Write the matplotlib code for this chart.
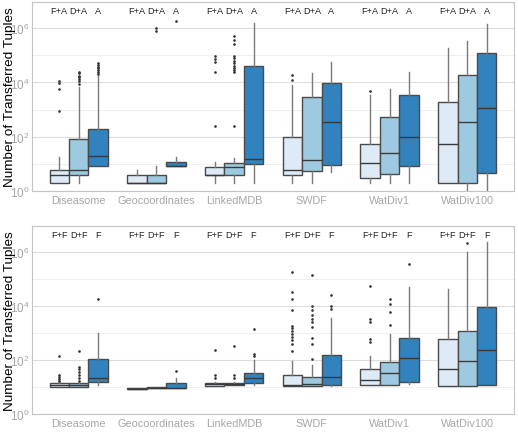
import numpy as np
import matplotlib.pyplot as plt
from matplotlib.ticker import FixedLocator, NullFormatter

plt.rcParams['font.family'] = ['Liberation Sans', 'DejaVu Sans']
plt.rcParams['mathtext.default'] = 'regular'

datasets = ["Diseasome", "Geocoordinates", "LinkedMDB", "SWDF", "WatDiv1", "WatDiv100"]
top_series = ["F+A", "D+A", "A"]
bottom_series = ["F+F", "D+F", "F"]
colors = ["#deebf7", "#9ecae1", "#3182bd"]

# top panel: one row per dataset, one value per series (F+A, D+A, A)
top_whislo = [[2, 2, 8], [2, 2, 8], [2, 2, 2], [2, 2, 5], [2, 2, 2], [2, 1, 1]]
top_q1 = [[2, 4, 8.5], [2, 2, 8], [4, 4, 10], [4, 5.2, 9], [3.1, 4.1, 8.4], [2, 2, 4.4]]
top_med = [[4, 6, 20], [2, 2, 8], [4, 7.3, 14.4], [6.1, 14, 355], [10.8, 26, 96], [53, 335, 1130]]
top_q3 = [[6, 83, 185], [4, 4, 12], [7.3, 11, 42000], [96, 3000, 9500], [53, 510, 3400], [1950, 19000, 120000]]
top_whishi = [[18, 6800, 18000], [6, 8, 18], [12, 16, 1.56e6], [8000, 22000, 55000], [3500, 5700, 25000], [180000, 350000, 1.44e6]]
top_fliers = [
    [[870, 5800, 9500, 11000],
     [9000, 11000, 13000, 15500, 18000, 22000, 25000],
     [20000, 24000, 28000, 33000, 38000, 45000, 52000]],
    [[], [800000, 1000000], [1.9e6]],
    [[245, 25000, 58000, 73000, 92000],
     [245, 25000, 29000, 34000, 42000, 52000, 63000, 78000, 92000, 260000, 380000, 500000],
     []],
    [[12000, 19000], [], []],
    [[4700], [], []],
    [[], [], []],
]

# bottom panel: series F+F, D+F, F
bot_whislo = [[10.3, 10.3, 12], [8.4, 9, 9.5], [11, 11.8, 12], [11, 11, 11], [11.8, 11.8, 13], [11, 11, 12]]
bot_q1 = [[10.3, 10.3, 15], [8.4, 9, 9.5], [11, 11.8, 14], [11, 11, 11.8], [11.8, 11.8, 15], [11, 11, 12]]
bot_med = [[11.9, 11.9, 21.5], [8.6, 9.3, 9.5], [12.5, 13, 22], [11.5, 13, 24], [19, 34, 122], [46, 89, 230]]
bot_q3 = [[13.7, 13.7, 106], [9.2, 10, 13.7], [13.7, 14.5, 34], [28, 24, 148], [48, 84, 670], [620, 1150, 9500]]
bot_whishi = [[16, 16, 970], [9.2, 10, 21], [15, 16, 97], [95, 67, 3700], [140, 890, 50000], [44000, 1.05e6, 2.3e6]]
bot_fliers = [
    [[17, 20, 24, 28, 145], [17, 22, 28, 35, 45, 54, 220], [18000]],
    [[], [], [38]],
    [[22, 29, 230], [22, 29, 330], [140, 170, 1450]],
    [[210, 400, 550, 700, 900, 1200, 1500, 1900, 7000, 18000, 33000, 180000],
     [112, 400, 650, 1650, 2600, 3400, 4800, 6900, 10500, 137000],
     [7600, 10500, 25000]],
    [[470, 620, 2600, 3200, 55000], [2000, 6000, 12000, 18000], [370000]],
    [[], [2.2e6], []],
]


def draw_panel(ax, labels, whislo, q1, med, q3, whishi, fliers):
    offsets = [-0.25, 0.0, 0.25]
    for i in range(len(datasets)):
        for j in range(3):
            st = dict(whislo=whislo[i][j], q1=q1[i][j], med=med[i][j],
                      q3=q3[i][j], whishi=whishi[i][j], fliers=fliers[i][j])
            ax.bxp([st], positions=[i + offsets[j]], widths=0.25,
                   patch_artist=True, showcaps=False, manage_ticks=False,
                   boxprops=dict(facecolor=colors[j], edgecolor="#4a4a4a", linewidth=1),
                   medianprops=dict(color="#3a3a3a", linewidth=1),
                   whiskerprops=dict(color="#7a7a7a", linewidth=1),
                   flierprops=dict(marker="o", markersize=0.9, markerfacecolor="#333333",
                                   markeredgecolor="#333333", linestyle="none"),
                   zorder=3)
            ax.text(i + offsets[j], 0.957, labels[j], transform=ax.get_xaxis_transform(),
                    ha="center", va="center", fontsize=6.6, color="#222222")

    ax.set_yscale("log")
    ax.set_ylim(1, 9.3e6)
    ax.set_xlim(-0.6, 5.6)
    ax.set_xticks(range(len(datasets)))
    ax.set_xticklabels(datasets)
    ax.yaxis.set_major_locator(FixedLocator([1, 1e2, 1e4, 1e6]))
    ax.yaxis.set_minor_locator(FixedLocator([10, 1e3, 1e5]))
    ax.yaxis.set_minor_formatter(NullFormatter())
    ax.set_yticklabels(["$10^{0}$", "$10^{2}$", "$10^{4}$", "$10^{6}$"])
    ax.grid(True, which="major", axis="y", color="#dcdcdc", linewidth=0.8, zorder=0)
    ax.grid(True, which="minor", axis="y", color="#ececec", linewidth=0.6, zorder=0)
    ax.set_axisbelow(True)
    for s in ax.spines.values():
        s.set_color("#c4c4c4")
        s.set_linewidth(0.8)
    ax.tick_params(axis="both", which="both", length=0, colors="#a6a6a6")
    ax.tick_params(axis="x", labelsize=7.8, pad=3)
    ax.tick_params(axis="y", labelsize=8.5, pad=2)
    ax.set_ylabel("Number of Transferred Tuples", fontsize=9.7, color="black", va="center")
    ax.yaxis.set_label_coords(-0.046, 0.5)


fig = plt.figure(figsize=(5.18, 4.35), dpi=100)
ax1 = fig.add_axes([0.062, 0.559, 0.930, 0.434])
ax2 = fig.add_axes([0.062, 0.046, 0.930, 0.432])

draw_panel(ax1, top_series, top_whislo, top_q1, top_med, top_q3, top_whishi, top_fliers)
draw_panel(ax2, bottom_series, bot_whislo, bot_q1, bot_med, bot_q3, bot_whishi, bot_fliers)

fig.savefig("out.png", dpi=100)
